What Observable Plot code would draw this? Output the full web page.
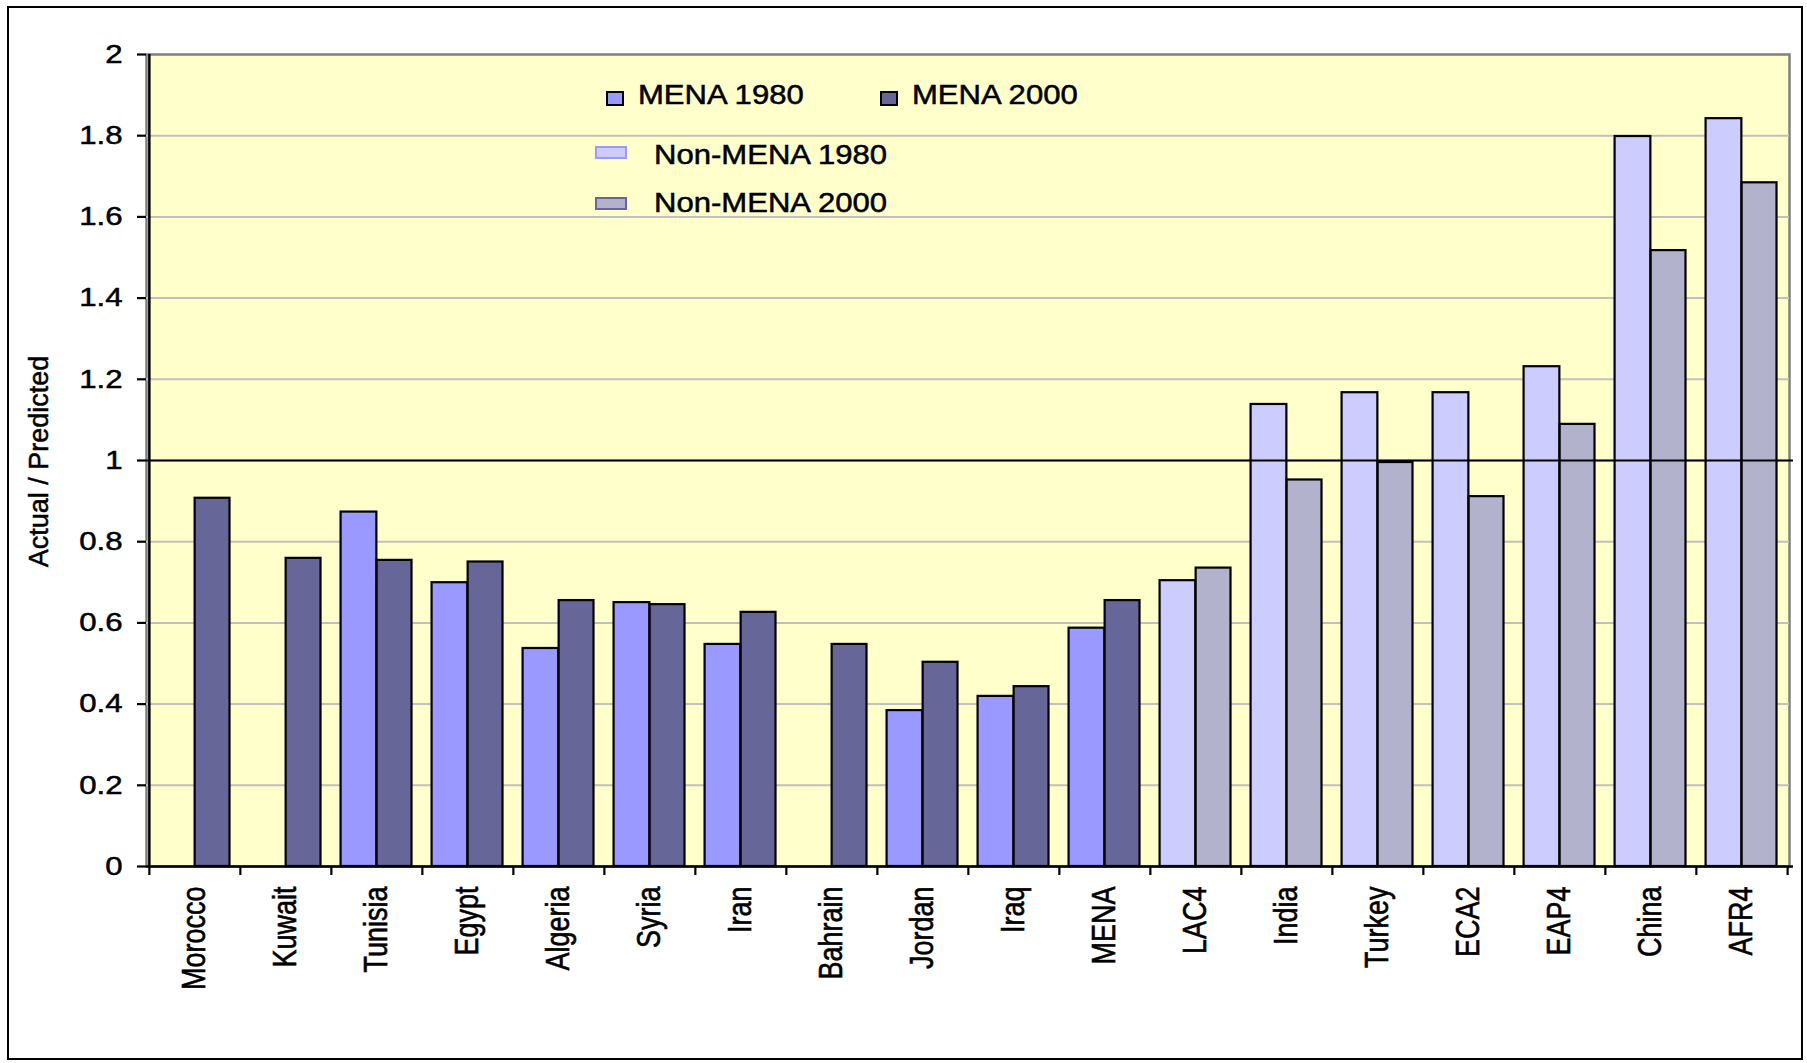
<!DOCTYPE html>
<html>
<head>
<meta charset="utf-8">
<script src="https://cdn.jsdelivr.net/npm/d3@7"></script>
<script src="https://cdn.jsdelivr.net/npm/@observablehq/plot@0.6"></script>
<style>
  html, body { margin: 0; padding: 0; background: #fff; }
  #wrap { position: relative; width: 1807px; height: 1063px; overflow: hidden; font-family: "Liberation Sans", Arial, sans-serif; }
  #border { position: absolute; left: 7px; top: 6px; width: 1796px; height: 1054px; border: 2px solid #000; box-sizing: border-box; pointer-events: none; }
  .lg-sw { position: absolute; box-sizing: border-box; }
  .lg-tx { position: absolute; font-size: 27px; line-height: 27px; white-space: nowrap; color: #000; transform: scaleX(1.15); transform-origin: 0 0; -webkit-text-stroke: 0.5px #000; }
  svg text { stroke: #000; stroke-width: 0.5px; }
</style>
</head>
<body>
<div id="wrap"><div id="border"></div></div>
<script>
const categories = ["Morocco","Kuwait","Tunisia","Egypt","Algeria","Syria","Iran","Bahrain","Jordan","Iraq","MENA","LAC4","India","Turkey","ECA2","EAP4","China","AFR4"];
const groups = ["MENA","MENA","MENA","MENA","MENA","MENA","MENA","MENA","MENA","MENA","MENA","Non-MENA","Non-MENA","Non-MENA","Non-MENA","Non-MENA","Non-MENA","Non-MENA"];
const years = ["1980", "2000"];
const values1980 = [null, null, 0.873, 0.699, 0.537, 0.650, 0.547, null, 0.384, 0.419, 0.587, 0.704, 1.138, 1.167, 1.167, 1.231, 1.798, 1.842];
const values2000 = [0.907, 0.759, 0.754, 0.750, 0.655, 0.645, 0.626, 0.547, 0.503, 0.443, 0.655, 0.735, 0.952, 0.995, 0.911, 1.089, 1.517, 1.684];
const seriesNames = ["MENA 1980", "MENA 2000", "Non-MENA 1980", "Non-MENA 2000"];
const seriesColors = ["#9999ff", "#666699", "#ccccff", "#b2b2cc"];
const legendBorders = ["#000000", "#000000", "#9999ff", "#666699"];
const yTicks = [0, 0.2, 0.4, 0.6, 0.8, 1, 1.2, 1.4, 1.6, 1.8, 2];
const yTitle = "Actual / Predicted";

const FONT = '"Liberation Sans", Arial, sans-serif';
const W = 1807, H = 1063, ML = 146, MR = 18, MT = 54, MB = 197;
const bw = (W - ML - MR) / categories.length;

const rows = [];
categories.forEach((c, i) => {
  [values1980[i], values2000[i]].forEach((v, j) => {
    if (v != null) rows.push({cat: c, year: years[j], value: v, series: groups[i] + " " + years[j]});
  });
});

const chart = Plot.plot({
  width: W, height: H,
  marginLeft: ML, marginRight: MR, marginTop: MT, marginBottom: MB,
  style: {fontFamily: FONT, fontSize: "26px", color: "#000", background: "transparent", overflow: "visible"},
  x: {type: "band", domain: categories, padding: 0, axis: null, label: null},
  y: {domain: [0, 2], axis: null, label: null},
  color: {domain: seriesNames, range: seriesColors},
  marks: [
    Plot.frame({fill: "#ffffcc", stroke: "#808080", strokeWidth: 2.5}),
    Plot.gridY({ticks: yTicks.filter(v => v > 0 && v < 2), stroke: "#c0c0c0", strokeOpacity: 1, strokeWidth: 2}),
    Plot.barY(rows.filter(d => d.year === "1980"), {x: "cat", y: "value", fill: "series", stroke: "#000", strokeWidth: 2.2, insetLeft: 0.105 * bw, insetRight: 0.5 * bw}),
    Plot.barY(rows.filter(d => d.year === "2000"), {x: "cat", y: "value", fill: "series", stroke: "#000", strokeWidth: 2.2, insetLeft: 0.5 * bw, insetRight: 0.115 * bw}),
    Plot.ruleY([1], {stroke: "#000", strokeWidth: 2.2, insetRight: -4}),
    Plot.ruleY([0], {stroke: "#000", strokeWidth: 2.5, insetRight: -4}),
    Plot.ruleX([categories[0]], {stroke: "#000", strokeWidth: 2.5, dx: -bw / 2}),
    Plot.axisY({ticks: yTicks, tickSize: 9, tickPadding: 15, fontSize: 26, stroke: "#000", strokeWidth: 2.2, fill: "#000", label: null, tickFormat: d => String(+d.toFixed(1))}),
    Plot.axisX({tickSize: 0, tickPadding: 20, tickRotate: -90, fontSize: 27, fill: "#000", label: null}),
    Plot.axisX({tickSize: 9, fill: "none", stroke: "#000", strokeWidth: 2.2, dx: -bw / 2, label: null}),
    Plot.axisX([categories[categories.length - 1]], {tickSize: 9, fill: "none", stroke: "#000", strokeWidth: 2.2, dx: bw / 2, label: null}),
    Plot.text([yTitle], {frameAnchor: "left", textAnchor: "middle", lineAnchor: "middle", dx: -107, dy: 1, rotate: -90, fontSize: 27, fill: "#000"})
  ]
});
chart.style.position = "absolute";
chart.style.left = "0px";
chart.style.top = "0px";

// Horizontal stretching of text glyphs, as in the reference image
function stretch(sel, sx, sy) {
  chart.querySelectorAll(sel).forEach(el => {
    let t = el.getAttribute("transform");
    if (!t) {
      const x = el.getAttribute("x") || 0, y = el.getAttribute("y") || 0;
      el.removeAttribute("x"); el.removeAttribute("y");
      t = `translate(${x},${y})`;
    }
    el.setAttribute("transform", `${t} scale(${sx},${sy})`);
  });
}
stretch('g[aria-label="y-axis tick label"] text', 1.2, 1);
stretch('g[aria-label="x-axis tick label"] text', 1, 1.2);

const wrap = document.getElementById("wrap");
wrap.insertBefore(chart, wrap.firstChild);

// Legend (overlaid inside the plot area, as in the reference)
const legendItems = [
  {name: seriesNames[0], sw: [606, 91, 18, 15], tx: [638, 105]},
  {name: seriesNames[1], sw: [880, 91, 18, 15], tx: [912, 105]},
  {name: seriesNames[2], sw: [595, 146, 32, 13], tx: [654, 165]},
  {name: seriesNames[3], sw: [595, 197, 32, 13], tx: [654, 213]}
];
legendItems.forEach((it, i) => {
  const s = document.createElement("div");
  s.className = "lg-sw";
  Object.assign(s.style, {left: it.sw[0] + "px", top: it.sw[1] + "px", width: it.sw[2] + "px", height: it.sw[3] + "px",
    background: seriesColors[i], border: "2px solid " + legendBorders[i]});
  wrap.appendChild(s);
  const t = document.createElement("div");
  t.className = "lg-tx";
  t.textContent = it.name;
  t.style.left = it.tx[0] + "px";
  t.style.top = (it.tx[1] - 23) + "px";
  wrap.appendChild(t);
});
</script>
</body>
</html>
